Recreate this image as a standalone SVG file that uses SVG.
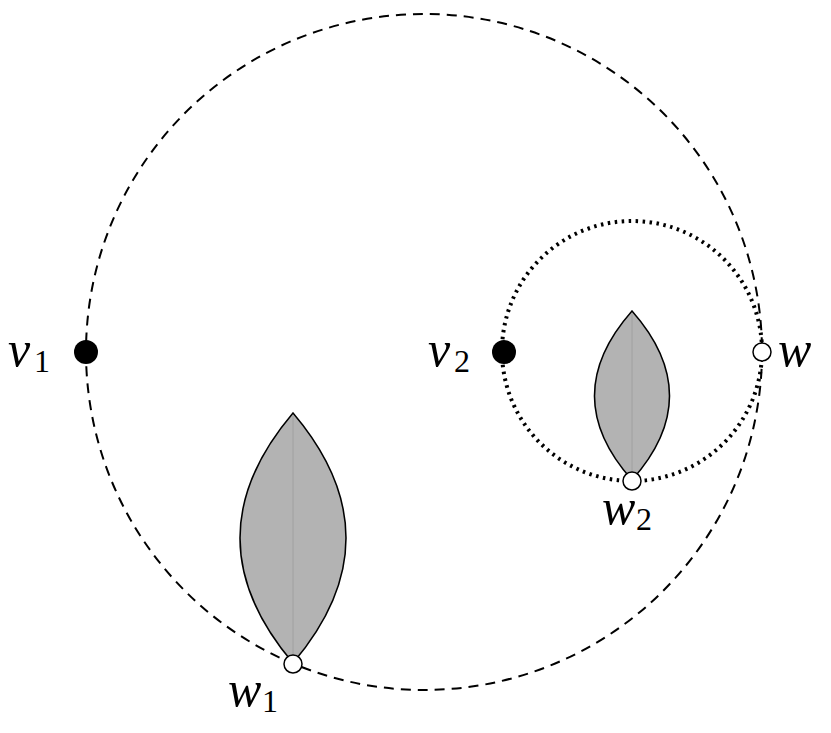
<svg xmlns="http://www.w3.org/2000/svg" width="831" height="733" viewBox="0 0 831 733">
<style>
.lens{fill:#b3b3b3;stroke:#000;stroke-width:1.5}
.mid{stroke:#a0a0a0;stroke-width:1}
.lbl{font-family:'Liberation Serif','DejaVu Serif',serif;font-style:italic;font-size:50px}
.sub{font-family:'Liberation Serif','DejaVu Serif',serif;font-size:32px}
.open{fill:#fff;stroke:#000;stroke-width:1.5}
</style>
<rect width="831" height="733" fill="#fff"/>
<g id="connectors" fill="none" stroke="#000">
<circle cx="424" cy="352" r="338" stroke-width="2" stroke-dasharray="10,7"/>
<circle cx="632" cy="351" r="130" stroke-width="4" stroke-dasharray="2.5,4.5"/>
</g>
<g id="lens1"><path class="lens" d="M293,413 Q399,538 293,663 Q187,538 293,413Z"/><line class="mid" x1="293" y1="415" x2="293" y2="661"/></g>
<g id="lens2"><path class="lens" d="M632,311 Q707,396 632,480 Q557,396 632,311Z"/><line class="mid" x1="632" y1="313" x2="632" y2="478"/></g>
<g id="v1"><circle cx="86" cy="352" r="12" fill="#000"/><text class="lbl" x="8" y="366">v</text><text class="sub" x="34" y="372">1</text></g>
<g id="v2"><circle cx="504" cy="352" r="12" fill="#000"/><text class="lbl" x="428" y="366">v</text><text class="sub" x="454" y="372">2</text></g>
<g id="w"><circle class="open" cx="762" cy="352" r="9"/><text class="lbl" x="778" y="366">w</text></g>
<g id="w1"><circle class="open" cx="293" cy="664" r="9"/><text class="lbl" x="228" y="706">w</text><text class="sub" x="262" y="712">1</text></g>
<g id="w2"><circle class="open" cx="632" cy="481" r="9"/><text class="lbl" x="602" y="524">w</text><text class="sub" x="636" y="530">2</text></g>
</svg>
